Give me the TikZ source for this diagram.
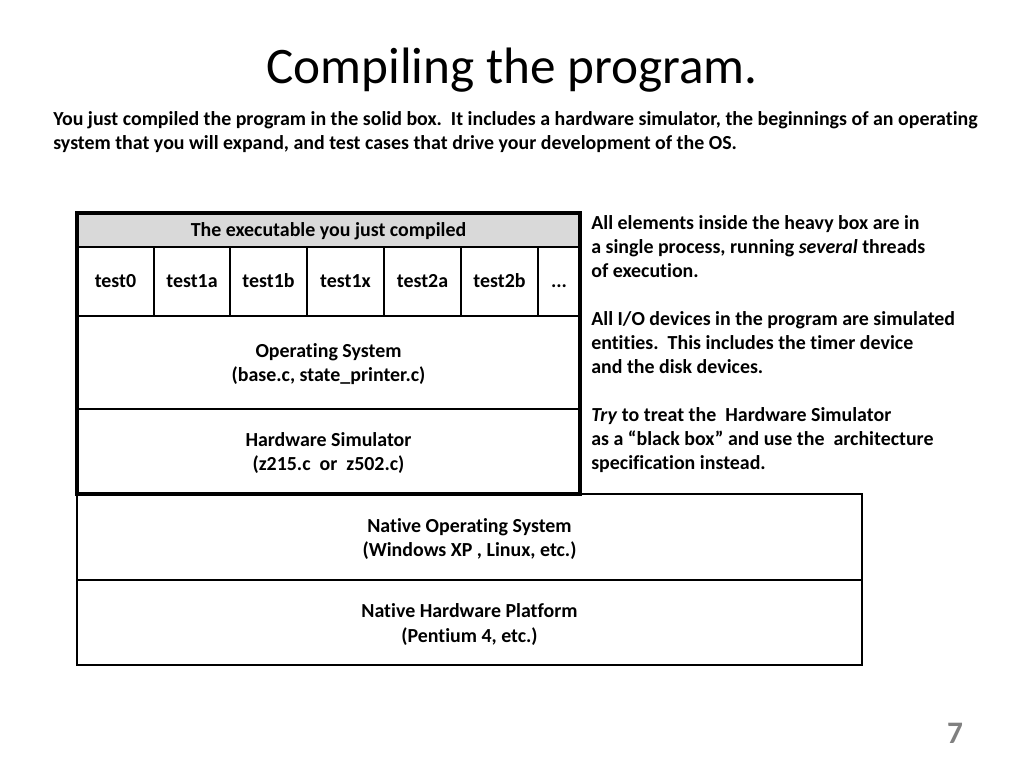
\documentclass[tikz,border=0pt]{standalone}
\usepackage{fontspec}
\setmainfont{Carlito}[Ligatures=NoCommon]
\usetikzlibrary{positioning}
\tikzset{
  celltext/.style={font=\fontsize{14}{16.9}\selectfont\bfseries,align=center,inner sep=0pt},
  testcell/.style={celltext,anchor=base},
  notetext/.style={font=\fontsize{14}{16.9}\selectfont\bfseries,align=left,anchor=north west,inner sep=0pt},
  thinbox/.style={draw,line width=0.9pt},
  heavybox/.style={draw,line width=2.8pt}
}
\begin{document}
\begin{tikzpicture}[x=0.703pt,y=-0.703pt]
    \useasboundingbox[fill=white] (0,0) rectangle (1024,768);

    % title and introduction
    \node[font=\fontsize{36}{44}\selectfont] (title) at (512,70) {Compiling the program.};
    \node[notetext] (intro) at (53,111) {You just compiled the program in the solid box.\ \ It includes a hardware simulator, the beginnings of an operating\\
      system that you will expand, and test cases that drive your development of the OS.};

    % native layers below the executable
    \draw[thinbox] (77,494) rectangle (862,580);
    \node[celltext] (nativeos) at (469.5,539) {Native Operating System\\(Windows XP , Linux, etc.)};
    \draw[thinbox] (77,580) rectangle (862,665);
    \node[celltext] (nativehw) at (469.5,624.5) {Native Hardware Platform\\(Pentium 4, etc.)};

    % the executable (heavy box)
    \fill[black!15] (77,213) rectangle (580,247);
    \node[celltext] (exe) at (328.5,231) {The executable you just compiled};
    \draw[thinbox] (77,247) -- (580,247) (77,316) -- (580,316) (77,409) -- (580,409);
    \foreach \idx/\xl/\xr in {0/77/154,1a/154/230,1b/230/307,1x/307/384,2a/384/461,2b/461/538} {
      \draw[thinbox] (\xr,247) -- (\xr,316);
      \node[testcell] (test\idx) at ({(\xl+\xr)/2},287) {test\idx};
    }
    \node[testcell] (testmore) at (559,287) {...};
    \node[celltext] (os) at (328.5,364) {Operating System\\(base.c, state\_printer.c)};
    \node[celltext] (hwsim) at (328.5,453) {Hardware Simulator\\(z215.c\ \ or\ \ z502.c)};
    \draw[heavybox] (77,213) rectangle (580,494);

    % notes on the right
    \node[notetext] (notes) at (591,215) {All elements inside the heavy box are in\\
      a single process, running \textit{several} threads\\
      of execution.\\[16.9pt]
      All I/O devices in the program are simulated\\
      entities.\ \ This includes the timer device\\
      and the disk devices.\\[16.9pt]
      \textit{Try} to treat the\ \ Hardware Simulator\\
      as a “black box” and use the\ \ architecture\\
      specification instead.};

    \node[font=\fontsize{22}{26}\selectfont\bfseries,text=black!50] (pagenum) at (955,733) {7};
  \end{tikzpicture}
\end{document}
